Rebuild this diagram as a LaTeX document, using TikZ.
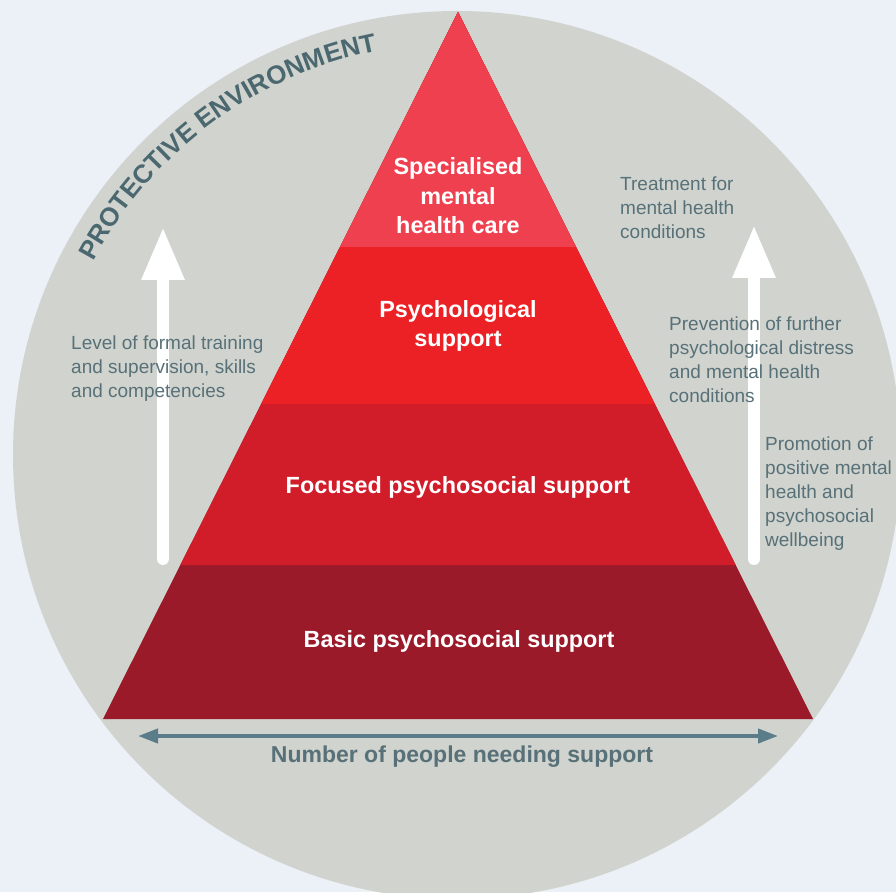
\documentclass[tikz,border=0pt]{standalone}
\usepackage{fontspec}
\setmainfont{Liberation Sans}
\usetikzlibrary{calc,arrows.meta,decorations.text}
\definecolor{bgc}{HTML}{ECF0F7}
\definecolor{circc}{HTML}{D0D3CE}
\definecolor{layA}{HTML}{EF4050}
\definecolor{layB}{HTML}{EC2125}
\definecolor{layC}{HTML}{D11C2A}
\definecolor{layD}{HTML}{9A1A2A}
\definecolor{txtc}{HTML}{587178}
\definecolor{pec}{HTML}{4B6870}
\definecolor{arrc}{HTML}{5A7D89}
\newcommand{\pefont}{\fontsize{26}{26}\selectfont\bfseries}
\begin{document}
\begin{tikzpicture}[x=1pt,y=1pt,
  layerlabel/.style={text=white, font=\fontsize{23.4}{29.5}\selectfont\bfseries, align=center, inner sep=0pt},
  sidelabel/.style={text=txtc, font=\fontsize{19}{24}\selectfont, align=left, inner sep=0pt, anchor=west},
  uparrow/.style={draw=white, line width=12pt, line cap=round, -{Triangle[width=40pt,length=53pt]}},
  widtharrow/.style={draw=arrc, line width=4pt, {Triangle[width=14pt,length=20pt]}-{Triangle[width=14pt,length=20pt]}},
  bottomlabel/.style={text=txtc, font=\fontsize{23}{26}\selectfont\bfseries, inner sep=0pt}
]
\fill[bgc] (0,0) rectangle (896,892);
\useasboundingbox (0,0) rectangle (896,892);
\coordinate (C) at (457,437);
\fill[circc] (C) circle[radius=444pt];

% protective environment text along arc
\path[decorate, decoration={text along path, text color=pec,
      text={|\pefont|PROTECTIVE ENVIRONMENT}, text align=left}]
  ($(C)+(152:412pt)$) arc[start angle=152, end angle=90, radius=412pt];

% pyramid
\coordinate (apex) at (458,880);
\coordinate (bl) at (103,173);
\coordinate (br) at (813,173);
\coordinate (l1) at ($(apex)!0.3324!(bl)$);
\coordinate (r1) at ($(apex)!0.3324!(br)$);
\coordinate (l2) at ($(apex)!0.5545!(bl)$);
\coordinate (r2) at ($(apex)!0.5545!(br)$);
\coordinate (l3) at ($(apex)!0.7822!(bl)$);
\coordinate (r3) at ($(apex)!0.7822!(br)$);
\fill[layD] (apex) -- (bl) -- (br) -- cycle;
\fill[layC] (apex) -- (l3) -- (r3) -- cycle;
\fill[layB] (apex) -- (l2) -- (r2) -- cycle;
\fill[layA] (apex) -- (l1) -- (r1) -- cycle;

\node[layerlabel] (spec) at (458,696) {Specialised\\mental\\health care};
\node[layerlabel] (psych) at (458,566) {Psychological\\support};
\node[layerlabel] (focus) at (458,405) {Focused psychosocial support};
\node[layerlabel] (basic) at (459,251) {Basic psychosocial support};

% white arrows
\coordinate (la0) at (163,333);
\coordinate (la1) at (163,665);
\coordinate (ra0) at (754,333);
\coordinate (ra1) at (754,667);
\draw[uparrow] (la0) -- (la1);
\draw[uparrow] (ra0) -- (ra1);

% side labels
\node[sidelabel] (lvl) at (71,523) {Level of formal training\\and supervision, skills\\and competencies};
\node[sidelabel] (treat) at (620,684) {Treatment for\\mental health\\conditions};
\node[sidelabel] (prev) at (669,532) {Prevention of further\\psychological distress\\and mental health\\conditions};
\node[sidelabel] (prom) at (765,398) {Promotion of\\positive mental\\health and\\psychosocial\\wellbeing};

% width arrow
\coordinate (hl) at (138,156);
\coordinate (hr) at (778,156);
\draw[widtharrow] (hl) -- (hr);
\node[bottomlabel] (num) at (462,135) {Number of people needing support};
\end{tikzpicture}
\end{document}
